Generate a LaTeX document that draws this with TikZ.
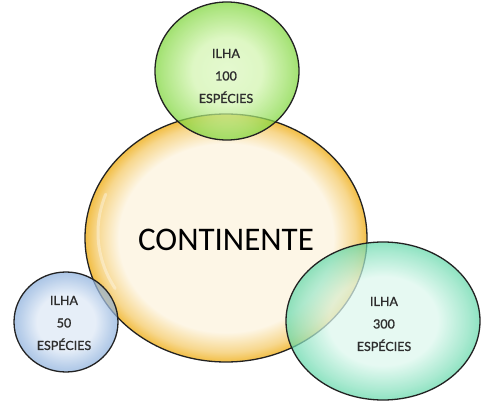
\documentclass[tikz,border=0pt]{standalone}
\usepackage{fontspec}
\setmainfont{Carlito}
\newfontfamily\lato[FakeBold=1.3]{Lato}
\definecolor{txtgray}{HTML}{2E2E2E}
\definecolor{edgegray}{HTML}{222222}
\definecolor{contin}{HTML}{FDF6E6}
\definecolor{contout}{HTML}{F2BE45}
\definecolor{grin}{HTML}{D2F5AE}
\definecolor{grout}{HTML}{7ED63A}
\definecolor{blin}{HTML}{DDE8F6}
\definecolor{blout}{HTML}{8CB0DD}
\definecolor{tlin}{HTML}{DDF8EE}
\definecolor{tlout}{HTML}{63D8AA}
\pgfdeclareradialshading{contshade}{\pgfpoint{0bp}{0bp}}{color(0bp)=(contin); color(19bp)=(contin); color(23bp)=(contout!55!contin); color(25bp)=(contout); color(50bp)=(contout)}
\pgfdeclareradialshading{grshade}{\pgfpoint{0bp}{0bp}}{color(0bp)=(grin!80!white); color(12bp)=(grin); color(22bp)=(grout!75!grin); color(25bp)=(grout); color(50bp)=(grout)}
\pgfdeclareradialshading{blshade}{\pgfpoint{0bp}{0bp}}{color(0bp)=(blin); color(14bp)=(blin); color(22bp)=(blout!75!blin); color(25bp)=(blout); color(50bp)=(blout)}
\pgfdeclareradialshading{tlshade}{\pgfpoint{0bp}{0bp}}{color(0bp)=(tlin); color(14bp)=(tlin); color(22bp)=(tlout!70!tlin); color(25bp)=(tlout); color(50bp)=(tlout)}
\tikzset{
  bubble/.style={draw=edgegray, line width=1.3pt},
  isle/.style={bubble, fill opacity=0.72},
  islelabel/.style={align=center, text=txtgray, font=\lato\fontsize{12.5}{22.5}\selectfont},
  highlight/.style={draw=white, line width=3pt, line cap=round, opacity=0.35}
}
\begin{document}
\begin{tikzpicture}[x=1pt,y=-1pt]
\useasboundingbox (0,0) rectangle (483,401);
\fill[white] (0,0) rectangle (483,401);
% continent
\shade[bubble, shading=contshade] (226,238) ellipse [x radius=141, y radius=124];
\draw[highlight] (226,238) ++(200:128) arc[start angle=200, end angle=150, x radius=128, y radius=112];
% green island
\shade[isle, shading=grshade] (227,71) ellipse [x radius=72, y radius=69];
% blue island
\shade[isle, shading=blshade] (66,322) ellipse [x radius=52, y radius=50];
% teal island
\shade[isle, shading=tlshade] (383,321) ellipse [x radius=97, y radius=79];
% labels
\node[font=\fontsize{33}{36}\selectfont, text=black] (cont) at (226,240) {CONTINENTE};
\node[islelabel] (g) at (226,76) {ILHA\\100\\ESPÉCIES};
\node[islelabel] (b) at (64,323) {ILHA\\50\\ESPÉCIES};
\node[islelabel] (t) at (384,324) {ILHA\\300\\ESPÉCIES};
\end{tikzpicture}
\end{document}
